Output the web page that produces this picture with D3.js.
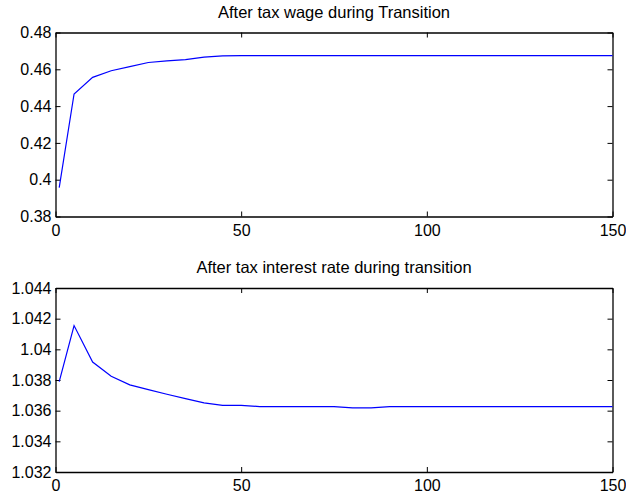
<!DOCTYPE html>
<html lang="en">
<head>
<meta charset="utf-8">
<title>After tax wage and interest rate during transition</title>
<style>
  body { margin: 0; background: white; }
  svg { display: block; font-family: Arial, "Liberation Sans", sans-serif; }
  .axis text { font-size: 16px; fill: black; }
  .axis path, .axis line { stroke: black; }
  .title { font-size: 16.5px; fill: black; }
</style>
<script src="https://d3js.org/d3.v7.min.js"></script>
</head>
<body>
<script>
let periods = [1, 5, 10, 15, 20, 25, 30, 35, 40, 45, 50, 55, 60, 65, 70, 75,
               80, 85, 90, 95, 100, 105, 110, 115, 120, 125, 130, 135, 140, 145, 150]

let wage = [0.3957, 0.4466, 0.4556, 0.4592, 0.4615, 0.4637, 0.4646, 0.4653, 0.4666, 0.4673,
            0.4674, 0.4674, 0.4674, 0.4674, 0.4674, 0.4674, 0.4674, 0.4674, 0.4674, 0.4674,
            0.4674, 0.4674, 0.4674, 0.4674, 0.4674, 0.4674, 0.4674, 0.4674, 0.4674, 0.4674, 0.4674]

let interest = [1.0379, 1.04155, 1.03917, 1.03824, 1.03768, 1.03737, 1.03707, 1.03678, 1.03651, 1.03635,
                1.03635, 1.03627, 1.03627, 1.03627, 1.03627, 1.03627, 1.03618, 1.03618, 1.03627, 1.03627,
                1.03627, 1.03627, 1.03627, 1.03627, 1.03627, 1.03627, 1.03627, 1.03627, 1.03627, 1.03627, 1.03627]

let xTicks = [0, 50, 100, 150]
let wageTicks = [0.38, 0.4, 0.42, 0.44, 0.46, 0.48]
let interestTicks = [1.032, 1.034, 1.036, 1.038, 1.04, 1.042, 1.044]

let width = 626
let height = 498
let left = 55.5
let right = 612.5

let svg = d3.select("body").append("svg")
    .attr("width", width)
    .attr("height", height)

let drawPanel = (opts) => {
    let x = d3.scaleLinear().domain([0, 150]).range([left, right])
    let y = d3.scaleLinear().domain(opts.domain).range([opts.bottom, opts.top])

    let g = svg.append("g")

    g.append("g").attr("class", "axis")
        .attr("transform", `translate(0,${opts.bottom})`)
        .call(d3.axisBottom(x).tickValues(xTicks).tickSize(-5).tickSizeOuter(0).tickPadding(8).tickFormat(d3.format("d")))
    g.append("g").attr("class", "axis")
        .attr("transform", `translate(0,${opts.top})`)
        .call(d3.axisTop(x).tickValues(xTicks).tickSize(-5).tickSizeOuter(0).tickFormat(""))
    g.append("g").attr("class", "axis")
        .attr("transform", `translate(${left},0)`)
        .call(d3.axisLeft(y).tickValues(opts.ticks).tickSize(-5).tickSizeOuter(0).tickPadding(4).tickFormat(d => +d.toFixed(3)))
    g.append("g").attr("class", "axis")
        .attr("transform", `translate(${right},0)`)
        .call(d3.axisRight(y).tickValues(opts.ticks).tickSize(-5).tickSizeOuter(0).tickFormat(""))

    g.selectAll(".axis .domain").attr("stroke-width", 1.3)

    g.append("path")
        .datum(opts.values)
        .attr("fill", "none")
        .attr("stroke", "#0000ff")
        .attr("stroke-width", 1.2)
        .attr("d", d3.line().x((d, i) => x(periods[i])).y(d => y(d)))

    g.append("text")
        .attr("class", "title")
        .attr("x", (left + right) / 2)
        .attr("y", opts.top - 15)
        .attr("text-anchor", "middle")
        .text(opts.title)
}

drawPanel({
    values: wage, domain: [0.38, 0.48], ticks: wageTicks,
    top: 32.5, bottom: 216.5,
    title: "After tax wage during Transition"
})

drawPanel({
    values: interest, domain: [1.032, 1.044], ticks: interestTicks,
    top: 288, bottom: 472,
    title: "After tax interest rate during transition"
})
</script>
</body>
</html>
